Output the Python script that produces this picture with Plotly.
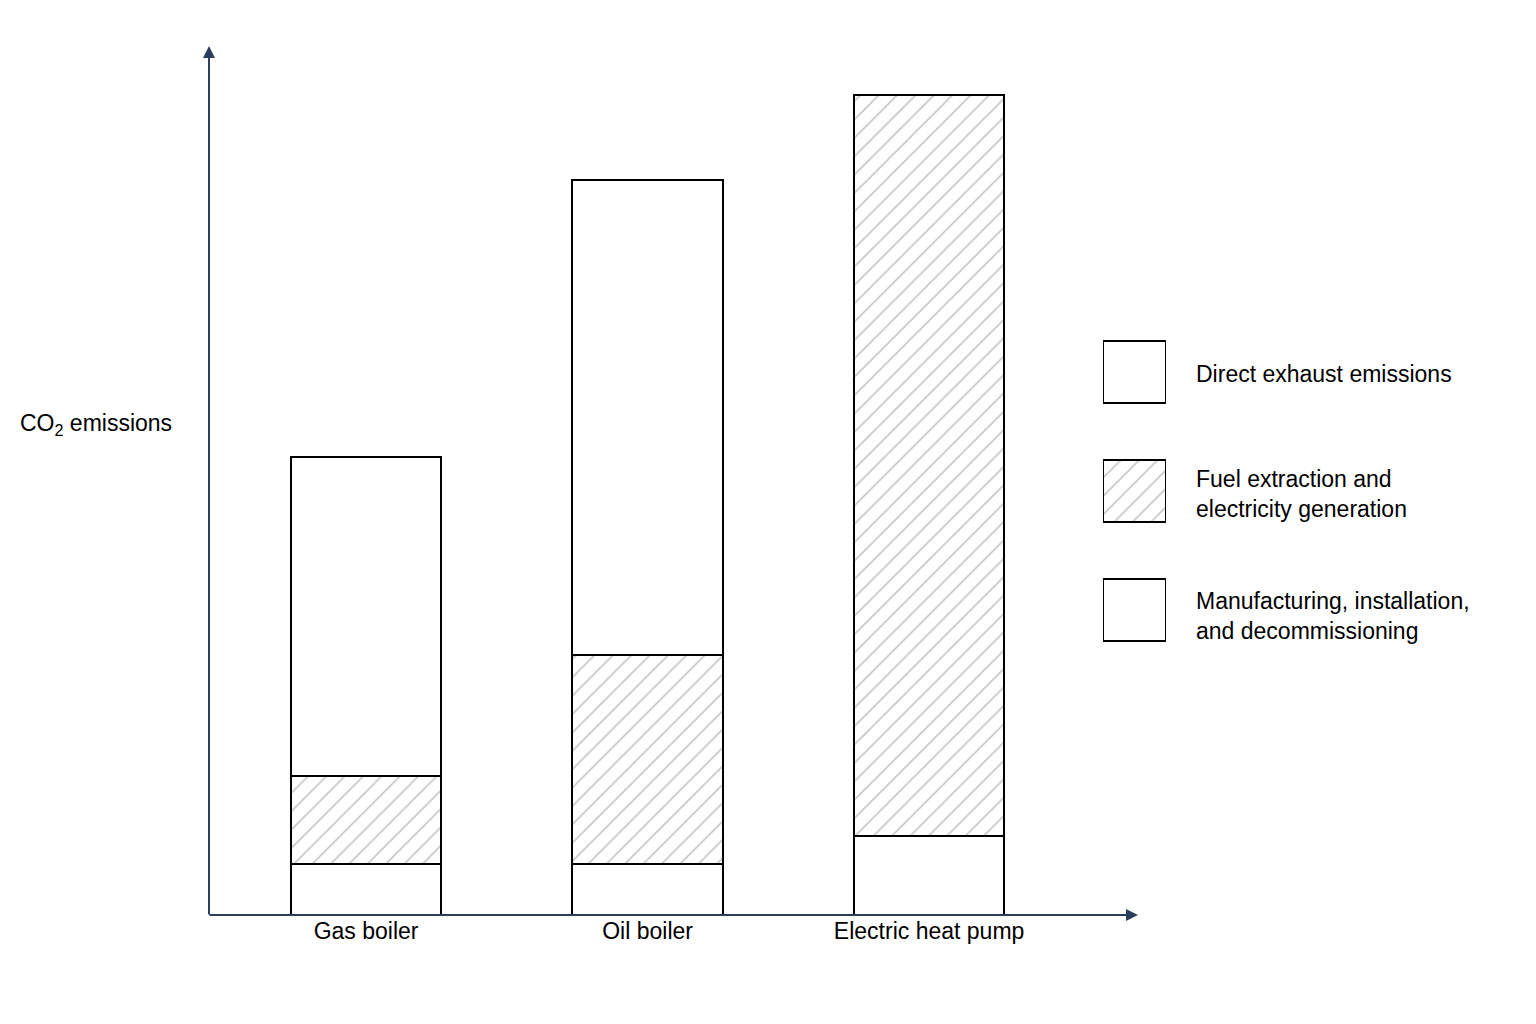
import plotly.graph_objects as go

categories = ["Gas boiler", "Oil boiler", "Electric heat pump"]
manufacturing = [51, 51, 79]
fuel = [88, 209, 741]
direct = [319, 475, 0]
legend_labels = ["Direct exhaust emissions", "Fuel extraction and<br>electricity generation",
                 "Manufacturing, installation,<br>and decommissioning"]

W, H = 1536, 1024
px = lambda x: x / W
py = lambda y: 1 - y / H

hatch = dict(shape="/", fgcolor="#8a8a8a", bgcolor="white", size=13, solidity=0.12)
line = dict(color="black", width=2)
fig = go.Figure()
fig.add_bar(x=categories, y=manufacturing, marker=dict(color="white", line=line), width=0.535)
fig.add_bar(x=categories, y=fuel, marker=dict(color="white", line=line, pattern=hatch), width=0.535)
fig.add_bar(x=categories, y=direct, marker=dict(color="white", line=line), width=0.535)

# legend swatches
leg_y = ["a", "b", "c"]
fig.add_bar(y=leg_y, x=[1, 1, 1], orientation="h", xaxis="x2", yaxis="y2",
            width=0.52,
            marker=dict(color="white", line=line,
                        pattern=dict(shape=["", "/", ""], fgcolor="#8a8a8a", bgcolor="white",
                                     size=13, solidity=0.12)))
for yy, t in zip([366, 486, 608], legend_labels):
    fig.add_annotation(xref="paper", yref="paper", x=px(1186), y=py(yy), text=t,
                       showarrow=False, xanchor="left", align="left",
                       font=dict(size=23, color="black"))

fig.update_layout(
    width=W, height=H, barmode="stack", showlegend=False,
    plot_bgcolor="white", paper_bgcolor="white",
    margin=dict(l=0, r=0, t=0, b=0),
    font=dict(family="Liberation Sans, Arial", color="black"),
    xaxis=dict(domain=[px(201), px(1128)], range=[-0.558, 2.735], showgrid=False,
               showline=False, ticks="", tickfont=dict(size=23), zeroline=False),
    yaxis=dict(domain=[py(907), py(40)], range=[0, 867], showgrid=False,
               showticklabels=False, zeroline=False, showline=False),
    xaxis2=dict(domain=[px(1095), px(1158)], range=[0, 1], visible=False, anchor="y2"),
    yaxis2=dict(domain=[py(661.5), py(304.5)], visible=False, anchor="x2",
                categoryorder="array", categoryarray=["c", "b", "a"]),
)
# axes arrows
fig.add_annotation(xref="paper", yref="paper", x=px(201), y=py(38), ax=0, ay=870,
                   axref="pixel", ayref="pixel", showarrow=True, arrowhead=2, arrowsize=1.2,
                   arrowwidth=2, text="")
fig.add_annotation(xref="paper", yref="paper", x=px(1130), y=py(907), ax=-930, ay=0,
                   axref="pixel", ayref="pixel", showarrow=True, arrowhead=2, arrowsize=1.2,
                   arrowwidth=2, text="")
fig.add_annotation(xref="paper", yref="paper", x=px(10), y=py(416), text="CO<sub>2</sub> emissions",
                   showarrow=False, xanchor="left", font=dict(size=23))
fig.write_html("out.html")
